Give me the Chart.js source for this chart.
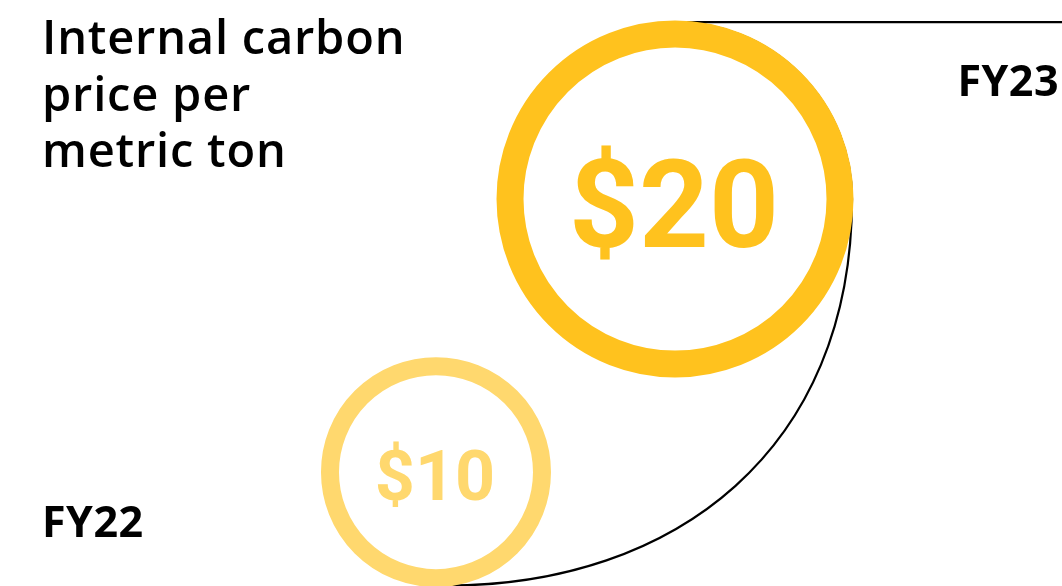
<!DOCTYPE html>
<html>
<head>
<meta charset="utf-8">
<script src="https://cdn.jsdelivr.net/npm/chart.js@4"></script>
<style>
    html, body { margin: 0; padding: 0; background: #ffffff; }
    #wrap { position: relative; width: 1062px; height: 586px; }
</style>
</head>
<body>
<div id="wrap"><canvas id="carbonChart"></canvas></div>
<script>
// ==================== Data ====================
const years = ['FY22', 'FY23'];
const yearIndex = [0, 1];
const prices = [10, 20];
const titleLines = ['Internal carbon', 'price per', 'metric ton'];

// ==================== Style ====================
const ringColors = ['#FFD86E', '#FFC21E'];
const ringRadius = [106, 165];
const ringWidth = [18, 27];
const valueFontSizes = [70, 122];

/**
 * 연결선 + 텍스트 그리는 플러그인
 */
const ringPlugin = {
    id: 'ringPlugin',
    beforeDatasetsDraw(chart) {
        const pts = chart.getDatasetMeta(0).data;
        if (!pts.length) return;
        const ctx = chart.ctx;
        const small = pts[0], big = pts[1];
        const rBig = ringRadius[1] + ringWidth[1] / 2 - 1.5;
        const rSmall = ringRadius[0] + ringWidth[0] / 2 - 1.5;

        ctx.save();
        ctx.strokeStyle = '#000000';
        ctx.lineWidth = 2.2;
        ctx.beginPath();
        // top line from the right edge to the top of the big ring
        ctx.moveTo(chart.width, big.y - rBig);
        ctx.lineTo(big.x, big.y - rBig);
        // follow the big ring to its right side
        ctx.arc(big.x, big.y, rBig, -Math.PI / 2, 0);
        // swing down to the bottom of the small ring
        const endX = small.x + 10;
        const endY = small.y + rSmall;
        ctx.bezierCurveTo(big.x + rBig, big.y + 250, endX + 230, endY, endX, endY);
        ctx.stroke();
        ctx.restore();
    },
    afterDatasetsDraw(chart) {
        const pts = chart.getDatasetMeta(0).data;
        const ctx = chart.ctx;
        ctx.save();

        // values inside rings
        pts.forEach((pt, i) => {
            const size = valueFontSizes[i];
            ctx.fillStyle = ringColors[i];
            ctx.font = `bold ${size}px Roboto`;
            ctx.textAlign = 'center';
            ctx.textBaseline = 'alphabetic';
            ctx.fillText('$' + prices[i], pt.x - 1, pt.y + size * 0.395);
        });

        // title
        ctx.fillStyle = '#000000';
        ctx.textAlign = 'left';
        ctx.font = '600 47px "Open Sans"';
        ctx.letterSpacing = '0.8px';
        titleLines.forEach((line, i) => {
            ctx.fillText(line, 42, 54 + i * 56.5);
        });

        // year labels
        ctx.letterSpacing = '0.5px';
        ctx.font = 'bold 43px "Open Sans"';
        ctx.fillText(years[0], 42, 537);
        ctx.textAlign = 'right';
        ctx.fillText(years[1], 1059, 96);
        ctx.restore();
    }
};

new Chart(document.getElementById('carbonChart'), {
    type: 'scatter',
    data: {
        datasets: [{
            data: yearIndex.map((x, i) => ({ x: x, y: prices[i] })),
            pointRadius: ringRadius,
            pointHoverRadius: ringRadius,
            pointBorderWidth: ringWidth,
            pointHoverBorderWidth: ringWidth,
            pointBackgroundColor: '#ffffff',
            pointBorderColor: ringColors,
            showLine: false,
            clip: false
        }]
    },
    options: {
        responsive: true,
        maintainAspectRatio: false,
        animation: false,
        events: [],
        layout: { padding: 0, autoPadding: false },
        plugins: {
            legend: { display: false },
            tooltip: { enabled: false },
            title: { display: false }
        },
        scales: {
            x: { type: 'linear', display: false, min: -1.824, max: 2.619 },
            y: { type: 'linear', display: false, min: 5.83, max: 27.29 }
        }
    },
    plugins: [ringPlugin]
});
</script>
</body>
</html>
